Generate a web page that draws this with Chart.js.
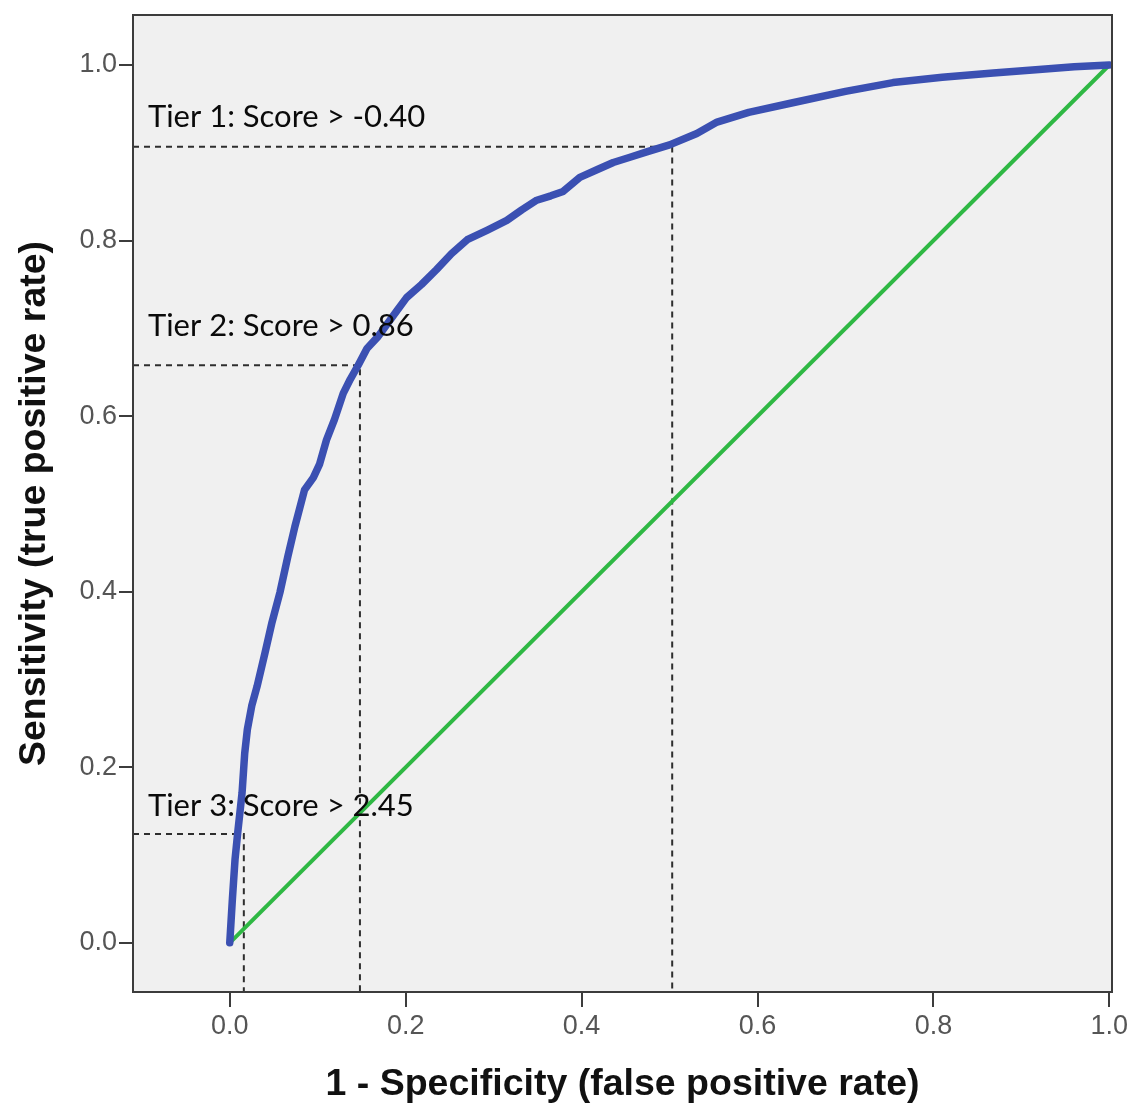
<!DOCTYPE html>
<html>
<head>
<meta charset="utf-8">
<script src="https://cdn.jsdelivr.net/npm/chart.js@4"></script>
<style>
  html, body { margin: 0; padding: 0; background: #ffffff; }
  #wrap { width: 1130px; height: 1110px; }
</style>
</head>
<body>
<div id="wrap"><canvas id="rocChart"></canvas></div>
<script>
// ROC curve
const fpr = [0, 0.003, 0.006, 0.009, 0.014, 0.017, 0.020, 0.025, 0.031, 0.040, 0.048, 0.057, 0.066, 0.074,
  0.085, 0.095, 0.102, 0.110, 0.119, 0.129, 0.137, 0.146, 0.156, 0.168, 0.179, 0.190, 0.201, 0.218,
  0.235, 0.252, 0.270, 0.293, 0.315, 0.332, 0.349, 0.365, 0.379, 0.398, 0.418, 0.436, 0.455, 0.474,
  0.500, 0.531, 0.554, 0.590, 0.640, 0.700, 0.754, 0.810, 0.868, 0.920, 0.960, 1.0];
const tpr = [0, 0.050, 0.095, 0.125, 0.171, 0.216, 0.243, 0.270, 0.292, 0.330, 0.365, 0.399, 0.440, 0.474,
  0.516, 0.530, 0.545, 0.573, 0.596, 0.626, 0.642, 0.658, 0.677, 0.690, 0.705, 0.720, 0.735, 0.750,
  0.767, 0.785, 0.801, 0.812, 0.823, 0.835, 0.846, 0.851, 0.856, 0.872, 0.881, 0.889, 0.895, 0.901,
  0.909, 0.922, 0.935, 0.946, 0.957, 0.970, 0.980, 0.986, 0.991, 0.995, 0.998, 1.0];

// reference diagonal
const diagX = [0, 1];
const diagY = [0, 1];

// cut-off tiers
const tierNames = ['Tier 1: Score > -0.40', 'Tier 2: Score > 0.86', 'Tier 3: Score > 2.45'];
const tierFpr = [0.503, 0.148, 0.016];
const tierTpr = [0.907, 0.658, 0.124];
const tierLabelX = [-0.093, -0.093, -0.093];
const tierLabelY = [0.941, 0.703, 0.156];

const tickVals = [0, 0.2, 0.4, 0.6, 0.8, 1.0];
const xMin = -0.11, xMax = 1.003;
const yMin = -0.056, yMax = 1.057;

const frameColor = '#3c3c3c';

const rocPoints = fpr.map((x, i) => ({ x: x, y: tpr[i] }));
const diagPoints = diagX.map((x, i) => ({ x: x, y: diagY[i] }));

const tierSets = tierFpr.map((x, i) => ({
  data: [{ x: xMin, y: tierTpr[i] }, { x: x, y: tierTpr[i] }, { x: x, y: yMin }],
  borderColor: '#2e2e2e',
  borderWidth: 2,
  borderDash: [6, 5],
  pointRadius: 0,
  tension: 0,
  order: 3
}));

// panel background, frame and tier labels
const panelPlugin = {
  id: 'panel',
  beforeDraw(chart) {
    const { ctx, chartArea: a } = chart;
    ctx.save();
    ctx.fillStyle = '#f0f0f0';
    ctx.fillRect(a.left, a.top, a.right - a.left, a.bottom - a.top);
    ctx.restore();
  },
  afterDraw(chart) {
    const { ctx, chartArea: a, scales } = chart;
    ctx.save();
    ctx.strokeStyle = frameColor;
    ctx.lineWidth = 2;
    ctx.strokeRect(a.left, a.top, a.right - a.left, a.bottom - a.top);
    ctx.font = '31px Lato, "Open Sans", sans-serif';
    ctx.fillStyle = '#0a0a0a';
    ctx.textBaseline = 'middle';
    ctx.textAlign = 'left';
    tierNames.forEach((t, i) => {
      ctx.fillText(t, scales.x.getPixelForValue(tierLabelX[i]), scales.y.getPixelForValue(tierLabelY[i]));
    });
    ctx.restore();
  }
};

const axisTicks = {
  color: '#555555',
  font: { family: '"Liberation Sans", Arial, sans-serif', size: 27 },
  callback: v => Number(v).toFixed(1)
};

// keep the axis boxes at fixed sizes, without label overhang padding
function fixBox(scale, w, h) {
  if (w) scale.width = w;
  if (h) scale.height = h;
  scale.paddingTop = 0;
  scale.paddingBottom = 0;
  scale.paddingLeft = 0;
  scale.paddingRight = 0;
}

new Chart(document.getElementById('rocChart'), {
  type: 'line',
  data: {
    datasets: [
      {
        data: rocPoints,
        borderColor: '#3b50b2',
        borderWidth: 7.5,
        pointRadius: 0,
        tension: 0,
        borderJoinStyle: 'round',
        borderCapStyle: 'round',
        order: 1
      },
      {
        data: diagPoints,
        borderColor: '#2fb844',
        borderWidth: 4,
        pointRadius: 0,
        order: 2
      },
      ...tierSets
    ]
  },
  options: {
    responsive: true,
    maintainAspectRatio: false,
    animation: false,
    layout: { padding: { top: 15, right: 18, left: 0, bottom: 0 } },
    plugins: { legend: { display: false }, tooltip: { enabled: false } },
    scales: {
      x: {
        type: 'linear',
        min: xMin,
        max: xMax,
        afterBuildTicks: axis => { axis.ticks = tickVals.map(v => ({ value: v })); },
        afterFit: scale => fixBox(scale, 0, 118),
        grid: { drawOnChartArea: false, drawTicks: true, tickLength: 15, color: frameColor, lineWidth: 2 },
        border: { display: true, color: frameColor, width: 2 },
        ticks: { ...axisTicks, padding: 3, maxRotation: 0 },
        title: {
          display: true,
          text: '1 - Specificity (false positive rate)',
          color: '#111111',
          font: { family: '"Liberation Sans", Arial, sans-serif', size: 37.5, weight: 'bold' },
          padding: { top: 0, bottom: 3 }
        }
      },
      y: {
        type: 'linear',
        min: yMin,
        max: yMax,
        afterBuildTicks: axis => { axis.ticks = tickVals.map(v => ({ value: v })); },
        afterFit: scale => fixBox(scale, 133, 0),
        grid: { drawOnChartArea: false, drawTicks: true, tickLength: 14, color: frameColor, lineWidth: 2 },
        border: { display: true, color: frameColor, width: 2 },
        ticks: { ...axisTicks, padding: 2 },
        title: {
          display: true,
          text: 'Sensitivity (true positive rate)',
          color: '#111111',
          font: { family: '"Liberation Sans", Arial, sans-serif', size: 37.5, weight: 'bold' },
          padding: { top: 12, bottom: 0 }
        }
      }
    }
  },
  plugins: [panelPlugin]
});
</script>
</body>
</html>
